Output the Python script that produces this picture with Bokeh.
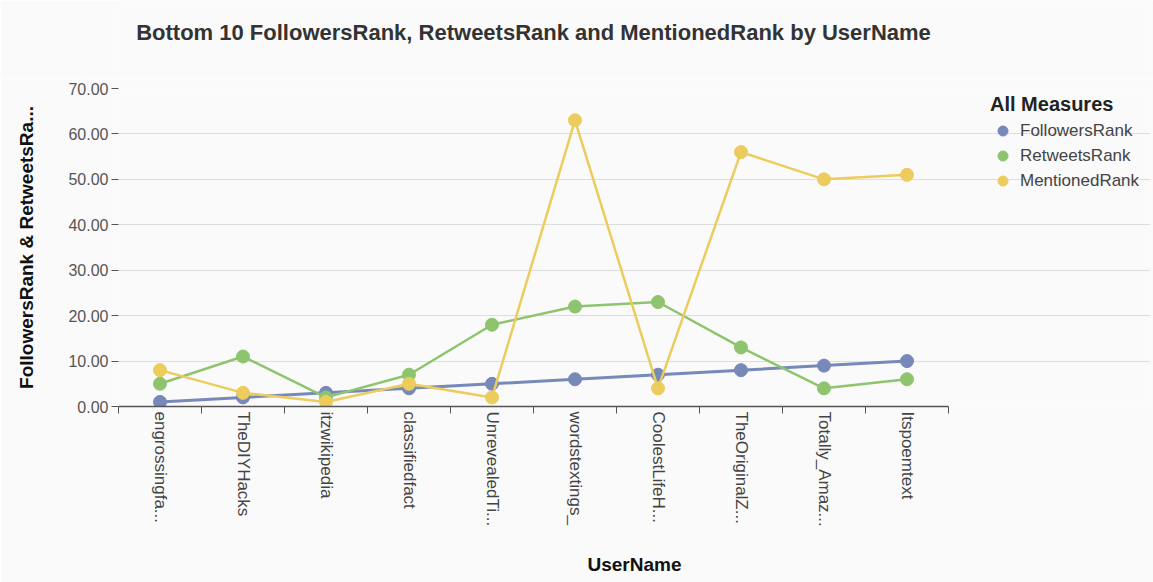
from bokeh.plotting import figure
from bokeh.layouts import column
from bokeh.models import (Range1d, LinearAxis, FixedTicker, NumeralTickFormatter, Legend,
                          LegendItem, ColumnDataSource, Label)
from bokeh.embed import file_html
from bokeh.resources import INLINE

users = ["engrossingfa...", "TheDIYHacks", "itzwikipedia", "classifiedfact", "UnrevealedTi...",
         "wordstextings_", "CoolestLifeH...", "TheOriginalZ...", "Totally_Amaz...", "Itspoemtext"]
followers_rank = [1, 2, 3, 4, 5, 6, 7, 8, 9, 10]
retweets_rank = [5, 11, 2, 7, 18, 22, 23, 13, 4, 6]
mentioned_rank = [8, 3, 1, 5, 2, 63, 4, 56, 50, 51]
y_ticks = [0, 10, 20, 30, 40, 50, 60, 70]
title_text = "Bottom 10 FollowersRank, RetweetsRank and MentionedRank by UserName"

series = [("FollowersRank", followers_rank, "#7689b9", 3),
          ("RetweetsRank", retweets_rank, "#8fc46f", 2.5),
          ("MentionedRank", mentioned_rank, "#eccc5c", 2.5)]

FONT = "Liberation Sans"
BG = "#fafafa"

W = 1153
TITLE_H = 78
H = 582 - TITLE_H
LEFT, RIGHT, TOP, BOTTOM = 118, 3, 10, 176
band_w = 830.0                      # pixel width of the 10 category slots (118..948)
frame_w = W - LEFT - RIGHT
n = len(users)
idx = list(range(n))
x_end = -0.5 + n * frame_w / band_w

# ---- title strip (frame aligned with the chart below) ----
t = figure(width=W, height=TITLE_H, output_backend="svg", toolbar_location=None,
           x_range=Range1d(0, 1), y_range=Range1d(0, 1), x_axis_location=None, y_axis_location=None,
           background_fill_color=BG, border_fill_color=BG, outline_line_color=None,
           min_border_left=LEFT, min_border_right=RIGHT, min_border_top=0, min_border_bottom=0)
t.xgrid.grid_line_color = None
t.ygrid.grid_line_color = None
t.add_layout(Label(x=(118 + 948) / 2 - LEFT, y=TITLE_H - 32, x_units="screen", y_units="screen",
                   text=title_text, text_align="center", text_baseline="middle",
                   text_font=FONT, text_font_size="22px", text_font_style="bold",
                   text_color="#333333"))

# ---- main chart ----
p = figure(width=W, height=H, output_backend="svg", toolbar_location=None,
           x_range=Range1d(-0.5, x_end), y_range=Range1d(0, 70),
           x_axis_location=None, y_axis_location=None,
           background_fill_color=BG, border_fill_color=BG, outline_line_color=None,
           min_border_left=LEFT, min_border_right=RIGHT, min_border_top=TOP, min_border_bottom=BOTTOM)

yax = LinearAxis(ticker=FixedTicker(ticks=y_ticks), formatter=NumeralTickFormatter(format="0.00"),
                 axis_line_color=None, major_tick_in=0, major_tick_out=7,
                 major_tick_line_color="#555555", minor_tick_line_color=None,
                 major_label_text_font=FONT, major_label_text_font_size="16px",
                 major_label_text_color="#555555", major_label_standoff=3,
                 axis_label="FollowersRank & RetweetsRa...", axis_label_text_font=FONT,
                 axis_label_text_font_size="19px", axis_label_text_font_style="bold",
                 axis_label_text_color="#111111", axis_label_standoff=28)
p.add_layout(yax, "left")

boundaries = [i - 0.5 for i in range(n + 1)]
tick_ax = LinearAxis(ticker=FixedTicker(ticks=boundaries), bounds=(-0.5, n - 0.5),
                     axis_line_color="#555555", axis_line_width=1.5, major_tick_in=0, major_tick_out=7,
                     major_tick_line_color="#555555", minor_tick_line_color=None,
                     major_label_text_font_size="0px", major_label_standoff=0,
                     major_label_overrides={b: "" for b in boundaries})
p.add_layout(tick_ax, "below")

cat_ax = LinearAxis(ticker=FixedTicker(ticks=idx), bounds=(-0.5, n - 0.5),
                    major_label_overrides={i: u for i, u in zip(idx, users)},
                    axis_line_color=None, major_tick_line_color=None, minor_tick_line_color=None,
                    major_label_orientation="vertical", major_label_standoff=-8,
                    major_label_text_font=FONT, major_label_text_font_size="17px",
                    major_label_text_color="#444444",
                    axis_label="UserName", axis_label_text_font=FONT,
                    axis_label_text_font_size="19px", axis_label_text_font_style="bold",
                    axis_label_text_color="#111111", axis_label_standoff=24)
p.add_layout(cat_ax, "below")

p.ygrid.ticker = FixedTicker(ticks=y_ticks)
p.ygrid.grid_line_color = "#dedede"
p.ygrid.bounds = (-0.5, n - 0.5)
p.xgrid.grid_line_color = None

items = []
for name, vals, color, lw in series:
    src = ColumnDataSource(dict(x=idx, user=users, v=vals))
    p.line("x", "v", source=src, line_color=color, line_width=lw)
    r = p.scatter("x", "v", source=src, size=13, fill_color=color, line_color=color)
    items.append(LegendItem(label=name, renderers=[r]))

legend = Legend(items=items, location=(990 - LEFT, (H - BOTTOM) - (193 - TITLE_H)), title="All Measures",
                title_text_font=FONT, title_text_font_size="20px", title_text_font_style="bold",
                title_text_color="#222222", title_standoff=2,
                label_text_font=FONT, label_text_font_size="17px", label_text_color="#444444",
                label_height=25, glyph_height=25, glyph_width=25, spacing=0,
                padding=0, margin=0, border_line_color=None, background_fill_alpha=0)
p.add_layout(legend, "center")

layout = column(t, p, spacing=0)
open("out.html", "w").write(file_html(layout, INLINE))
